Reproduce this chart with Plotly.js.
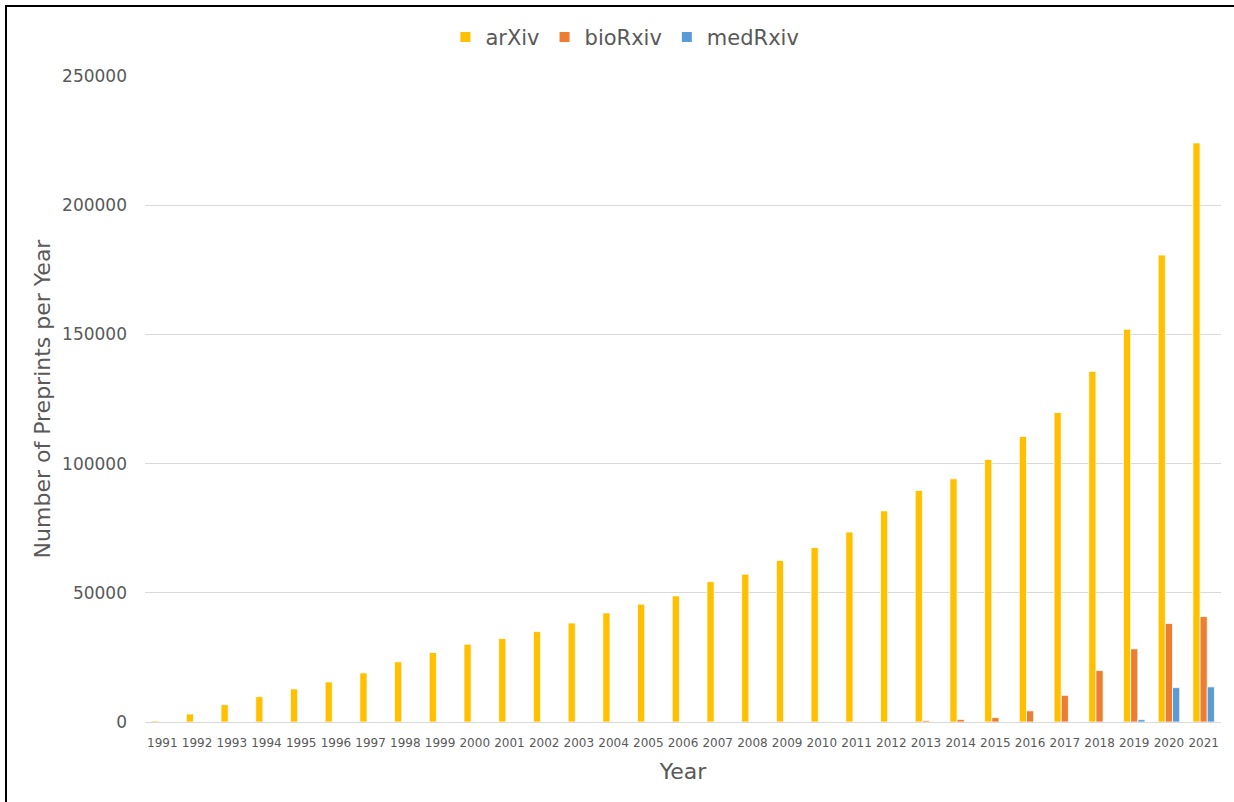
<!DOCTYPE html>
<html>
<head>
<meta charset="utf-8">
<script src="https://cdn.plot.ly/plotly-3.0.1.min.js"></script>
<style>
  html, body { margin: 0; padding: 0; background: #fff; }
  #wrap { position: relative; width: 1234px; height: 802px; overflow: hidden; }
  #chart { position: absolute; left: 0; top: 0; width: 1234px; height: 802px; }
  #frame { position: absolute; left: 5px; top: 5px; right: -10px; bottom: -10px;
           border-left: 2px solid #000; border-top: 2px solid #000; pointer-events: none; }
</style>
</head>
<body>
<div id="wrap">
  <div id="chart"></div>
  <div id="frame"></div>
</div>
<script>
// Preprints submitted per year to each server
const years = ["1991","1992","1993","1994","1995","1996","1997","1998","1999","2000",
               "2001","2002","2003","2004","2005","2006","2007","2008","2009","2010",
               "2011","2012","2013","2014","2015","2016","2017","2018","2019","2020","2021"];

const arxiv = [400, 3100, 6700, 9800, 12800, 15500, 19000, 23300, 26900, 30100,
               32300, 35000, 38300, 42200, 45600, 48800, 54300, 57200, 62500, 67500,
               73500, 81700, 89600, 94100, 101600, 110500, 119800, 135700, 152000, 180700, 224100];

const biorxiv = [0, 0, 0, 0, 0, 0, 0, 0, 0, 0,
                 0, 0, 0, 0, 0, 0, 0, 0, 0, 0,
                 0, 0, 500, 1000, 1700, 4300, 10300, 19900, 28300, 38100, 40800];

const medrxiv = [0, 0, 0, 0, 0, 0, 0, 0, 0, 0,
                 0, 0, 0, 0, 0, 0, 0, 0, 0, 0,
                 0, 0, 0, 0, 0, 0, 0, 0, 900, 13300, 13600];

const seriesNames = ["arXiv", "bioRxiv", "medRxiv"];
const seriesColors = ["#FFC000", "#ED7D31", "#5B9BD5"];
const seriesValues = [arxiv, biorxiv, medrxiv];

const yTicks = [0, 50000, 100000, 150000, 200000, 250000];

const textGrey = "#595959";
const fontFamily = "DejaVu Sans, Verdana, sans-serif";

const traces = seriesNames.map((name, i) => ({
  type: "bar",
  name: name,
  x: years,
  y: seriesValues[i],
  marker: { color: seriesColors[i], line: { color: "#ffffff", width: 0.75 } },
  hoverinfo: "x+y+name"
}));

const layout = {
  width: 1234,
  height: 802,
  paper_bgcolor: "#ffffff",
  plot_bgcolor: "#ffffff",
  margin: { l: 145, r: 13, t: 76, b: 80, pad: 0 },
  barmode: "group",
  bargap: 0.38,
  bargroupgap: 0,
  font: { family: fontFamily, color: textGrey },
  showlegend: true,
  legend: {
    orientation: "h",
    x: 0.446, xanchor: "center",
    y: 1.06, yanchor: "middle",
    font: { size: 21, color: textGrey, family: fontFamily },
    itemsizing: "constant",
    traceorder: "normal"
  },
  xaxis: {
    type: "category",
    tickfont: { size: 12, color: textGrey },
    showgrid: false,
    showline: true,
    linecolor: "#d9d9d9",
    linewidth: 1,
    ticks: "",
    ticklabelstandoff: 10,
    title: { text: "Year", font: { size: 22, color: textGrey }, standoff: 14 }
  },
  yaxis: {
    range: [0, 250000],
    tickvals: yTicks,
    ticktext: yTicks.map(String),
    tickfont: { size: 17, color: textGrey },
    showgrid: true,
    gridcolor: "#d9d9d9",
    gridwidth: 1,
    zeroline: false,
    showline: false,
    ticks: "",
    ticklabelstandoff: 17,
    title: { text: "Number of Preprints per Year", font: { size: 22, color: textGrey }, standoff: 5 }
  }
};

Plotly.newPlot("chart", traces, layout, { displayModeBar: false, staticPlot: true });
</script>
</body>
</html>
